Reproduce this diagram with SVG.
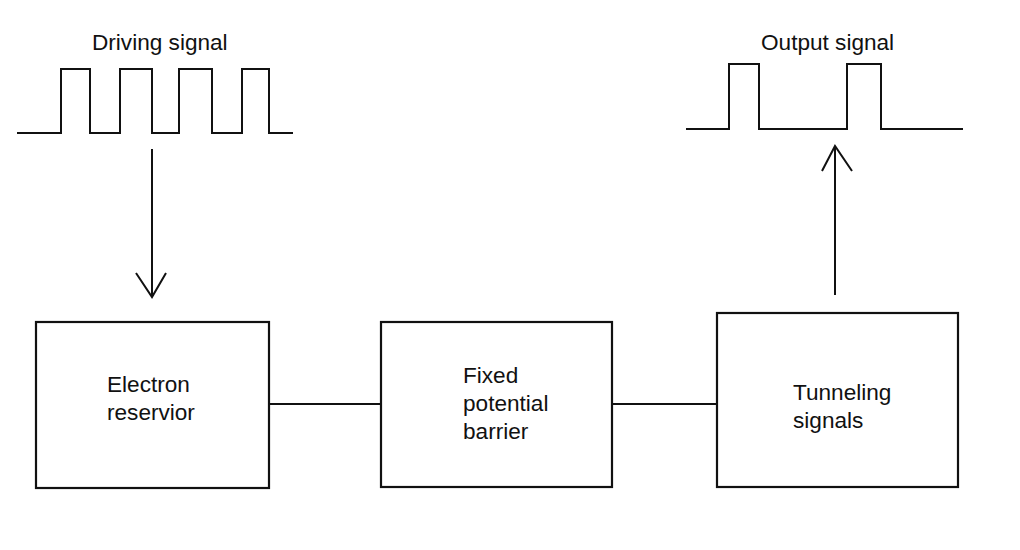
<svg xmlns="http://www.w3.org/2000/svg" width="1020" height="550" viewBox="0 0 1020 550">
<style>
.ln{fill:none;stroke:#111;stroke-width:2;stroke-linejoin:miter}
.box{fill:#fff;stroke:#111;stroke-width:2.2}
.t{font-family:"Liberation Sans",Arial,sans-serif;font-size:22.6px;fill:#111}
</style>
<rect width="1020" height="550" fill="#fff"/>
<g id="driving-signal">
<text class="t" x="92" y="50">Driving signal</text>
<path class="ln" d="M17,133 H61 V69 H90 V133 H120 V69 H152 V133 H179 V69 H212 V133 H242 V69 H269 V133 H293"/>
</g>
<g id="output-signal">
<text class="t" x="761" y="50">Output signal</text>
<path class="ln" d="M686,129 H729 V64 H759 V129 H847 V64 H881 V129 H963"/>
</g>
<g id="electron-reservoir">
<rect class="box" x="36" y="322" width="233" height="166"/>
<text class="t" x="107" y="392">Electron</text>
<text class="t" x="107" y="420">reservior</text>
</g>
<g id="fixed-potential-barrier">
<rect class="box" x="381" y="322" width="231" height="165"/>
<text class="t" x="463" y="383">Fixed</text>
<text class="t" x="463" y="411">potential</text>
<text class="t" x="463" y="439">barrier</text>
</g>
<g id="tunneling-signals">
<rect class="box" x="717" y="313" width="241" height="174"/>
<text class="t" x="793" y="400">Tunneling</text>
<text class="t" x="793" y="428">signals</text>
</g>
<g id="connectors">
<path class="ln" d="M152,149 V297 M136,273 L152,297 L166,273"/>
<path class="ln" d="M835,295 V146 M822,171 L835,146 L852,171"/>
<path class="ln" d="M269,404 H381"/>
<path class="ln" d="M612,404 H717"/>
</g>
</svg>
